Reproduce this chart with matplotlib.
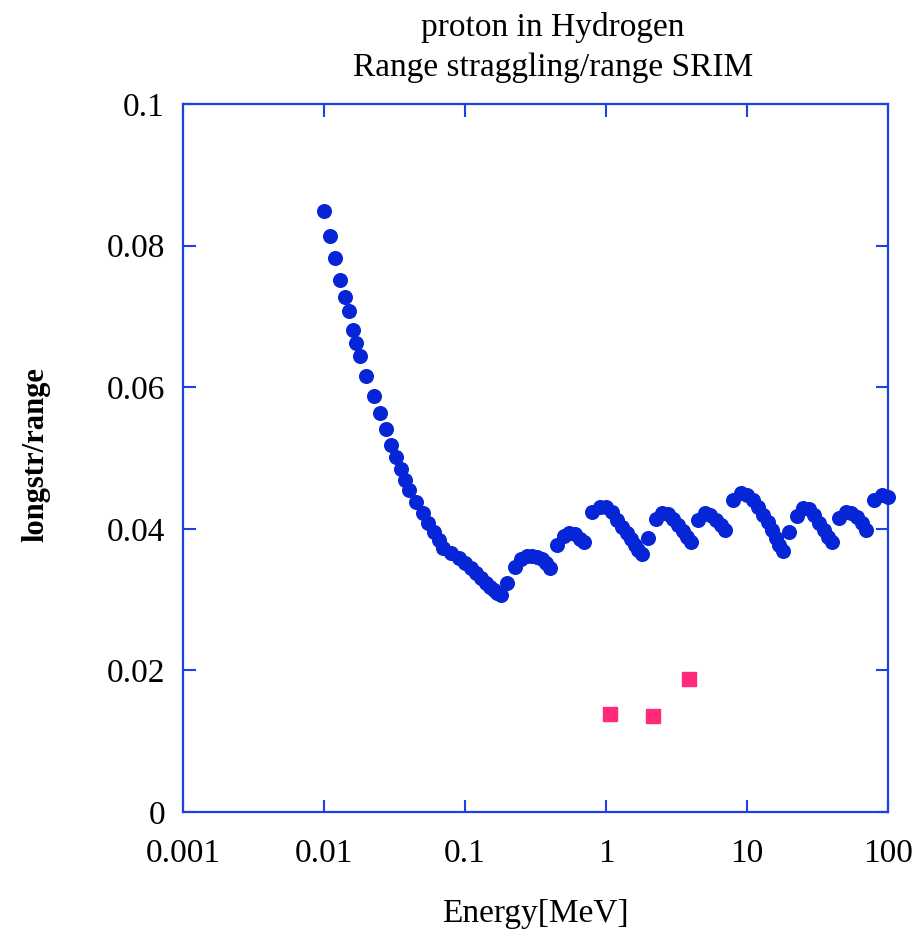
import matplotlib
matplotlib.use("Agg")
import matplotlib.pyplot as plt
from matplotlib.ticker import FixedLocator, FixedFormatter, NullLocator

plt.rcParams['font.family'] = ['Liberation Serif', 'DejaVu Serif']

# SRIM data: energy [MeV] and longitudinal straggling / range
energy = [0.010, 0.011, 0.012, 0.013, 0.014, 0.015, 0.016, 0.017, 0.018, 0.020,
          0.0225, 0.025, 0.0275, 0.030, 0.0325, 0.035, 0.0375, 0.040, 0.045, 0.050,
          0.055, 0.060, 0.065, 0.070, 0.080, 0.090, 0.100, 0.110, 0.120, 0.130,
          0.140, 0.150, 0.160, 0.170, 0.180, 0.200, 0.225, 0.250, 0.275, 0.300,
          0.325, 0.350, 0.375, 0.400, 0.450, 0.500, 0.550, 0.600, 0.650, 0.700,
          0.800, 0.900, 1.0, 1.1, 1.2, 1.3, 1.4, 1.5, 1.6, 1.7,
          1.8, 2.0, 2.25, 2.5, 2.75, 3.0, 3.25, 3.5, 3.75, 4.0,
          4.5, 5.0, 5.5, 6.0, 6.5, 7.0, 8.0, 9.0, 10, 11,
          12, 13, 14, 15, 16, 17, 18, 20, 22.5, 25,
          27.5, 30, 32.5, 35, 37.5, 40, 45, 50, 55, 60,
          65, 70, 80, 90, 100]
ratio = [0.0849, 0.0813, 0.0782, 0.0751, 0.0727, 0.0707, 0.0681, 0.0663, 0.0644, 0.0616,
         0.0588, 0.0563, 0.0541, 0.0518, 0.0502, 0.0484, 0.0469, 0.0455, 0.0438, 0.0422,
         0.0408, 0.0396, 0.0384, 0.0373, 0.0366, 0.0359, 0.0352, 0.0345, 0.0338, 0.0331,
         0.0324, 0.0318, 0.0313, 0.0309, 0.0306, 0.0323, 0.0346, 0.0357, 0.0361, 0.0362,
         0.0360, 0.0357, 0.0352, 0.0345, 0.0377, 0.0390, 0.0394, 0.0392, 0.0386, 0.0381,
         0.0424, 0.0431, 0.0431, 0.0424, 0.0413, 0.0403, 0.0394, 0.0385, 0.0377, 0.0370,
         0.0364, 0.0387, 0.0414, 0.0423, 0.0421, 0.0414, 0.0406, 0.0397, 0.0388, 0.0381,
         0.0412, 0.0423, 0.0420, 0.0413, 0.0405, 0.0399, 0.0441, 0.0450, 0.0448, 0.0441,
         0.0431, 0.0419, 0.0410, 0.0398, 0.0387, 0.0377, 0.0369, 0.0396, 0.0418, 0.0429,
         0.0428, 0.0419, 0.0408, 0.0398, 0.0389, 0.0382, 0.0415, 0.0424, 0.0423, 0.0417,
         0.0408, 0.0399, 0.0441, 0.0448, 0.0445]

# Experimental points
exp_energy = [1.07, 2.17, 3.86]
exp_ratio = [0.0138, 0.0136, 0.0188]

xticks = [0.001, 0.01, 0.1, 1, 10, 100]
xticklabels = ["0.001", "0.01", "0.1", "1", "10", "100"]
yticks = [0, 0.02, 0.04, 0.06, 0.08, 0.1]
yticklabels = ["0", "0.02", "0.04", "0.06", "0.08", "0.1"]

W, H = 921, 939
fig = plt.figure(figsize=(W / 100, H / 100), dpi=100)
L, R, T, B = 183, 888, 104, 812
ax = fig.add_axes([L / W, 1 - B / H, (R - L) / W, (B - T) / H])

frame_col = '#1f40e6'
fs = 24

ax.plot(energy, ratio, linestyle='none', marker='o', ms=9.8, color='#0525d6',
        mec='#0525d6', clip_on=False, zorder=3)
ax.plot(exp_energy, exp_ratio, linestyle='none', marker='s', ms=9.5, color='#ff2b7a',
        mec='#ff2b7a', clip_on=False, zorder=3)

ax.set_xscale('log')
ax.set_xlim(0.001, 100)
ax.set_ylim(0, 0.1)
ax.xaxis.set_major_locator(FixedLocator(xticks))
ax.xaxis.set_major_formatter(FixedFormatter(xticklabels))
ax.xaxis.set_minor_locator(NullLocator())
ax.yaxis.set_major_locator(FixedLocator(yticks))
ax.yaxis.set_major_formatter(FixedFormatter(yticklabels))

for s in ax.spines.values():
    s.set_color(frame_col)
    s.set_linewidth(1.6)

ax.tick_params(axis='both', which='major', direction='in', length=9, width=1.5,
               color=frame_col, top=True, right=True, labelsize=fs, labelcolor='black')
ax.tick_params(axis='x', pad=19)
ax.tick_params(axis='y', pad=13)

ax.set_xlabel('Energy[MeV]', fontsize=fs)
ax.xaxis.set_label_coords(0.5, -0.122)
ax.set_ylabel('longstr/range', fontsize=22, fontweight='bold')
ax.yaxis.set_label_coords(-0.188, 0.505)

tx = 553 / W
fig.text(tx, 1 - 36 / H, 'proton in Hydrogen', ha='center', va='baseline', fontsize=fs)
fig.text(tx, 1 - 76 / H, 'Range straggling/range SRIM', ha='center', va='baseline', fontsize=fs)

fig.savefig('out.png', dpi=100)
